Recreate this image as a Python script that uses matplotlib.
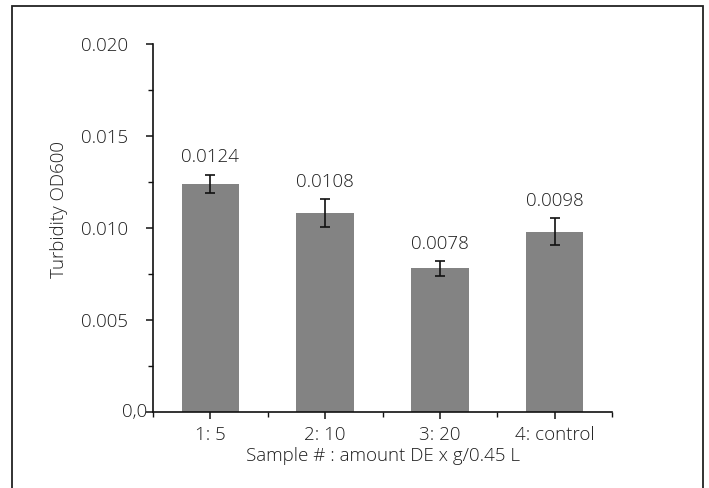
import matplotlib
matplotlib.use("Agg")
import matplotlib.pyplot as plt
from matplotlib.patches import Rectangle
from matplotlib.ticker import MultipleLocator, FixedLocator

categories = ["1: 5", "2: 10", "3: 20", "4: control"]
values = [0.0124, 0.0108, 0.0078, 0.0098]
errors = [0.0005, 0.00075, 0.0004, 0.00075]
value_labels = ["0.0124", "0.0108", "0.0078", "0.0098"]
ytick_values = [0.0, 0.005, 0.010, 0.015, 0.020]
ytick_labels = ["", "0.005", "0.010", "0.015", "0.020"]

plt.rcParams['font.family'] = ['Open Sans', 'DejaVu Sans']
plt.rcParams['font.weight'] = 'light'
plt.rcParams['axes.labelweight'] = 'light'
FS = 13.5
TC = "#1e1e1e"

W, H = 709, 488
fig = plt.figure(figsize=(W / 100, H / 100), dpi=100)
ax = fig.add_axes([153 / W, 1 - 412 / H, (612 - 153) / W, (412 - 44) / H])

x = list(range(len(categories)))
ax.bar(x, values, width=0.5, color="#838383", zorder=2)
ax.errorbar(x, values, yerr=errors, fmt="none", ecolor="#111111",
            elinewidth=1.2, capsize=3.5, capthick=1.2, zorder=3)

for xi, v, e, lab in zip(x, values, errors, value_labels):
    ax.annotate(lab, (xi, v + e), xytext=(0, 6), textcoords="offset points",
                ha="center", va="bottom", fontsize=FS, color=TC)

ax.set_xlim(-0.5, 3.5)
ax.set_ylim(0, 0.020)
ax.set_xticks(x)
ax.set_xticklabels(categories, fontsize=FS, color=TC)
ax.xaxis.set_minor_locator(FixedLocator([-0.5, 0.5, 1.5, 2.5, 3.5]))
ax.set_yticks(ytick_values)
ax.set_yticklabels(ytick_labels, fontsize=FS, color=TC)
ax.yaxis.set_minor_locator(MultipleLocator(0.0025))

ax.tick_params(axis="both", which="major", direction="out", length=5,
               width=1.1, colors="#111111", labelcolor=TC)
ax.tick_params(axis="both", which="minor", direction="out", length=3.5,
               width=1.0, colors="#111111")
ax.tick_params(axis="y", which="major", pad=13)
ax.tick_params(axis="x", which="major", pad=5)

ax.text(-0.012, 0.0, "0,0", transform=ax.get_yaxis_transform(),
        ha="right", va="center", fontsize=FS, color=TC)

for s in ["top", "right"]:
    ax.spines[s].set_visible(False)
for s in ["left", "bottom"]:
    ax.spines[s].set_linewidth(1.2)
    ax.spines[s].set_color("#111111")

ax.set_xlabel("Sample # : amount DE x g/0.45 L", fontsize=FS,
              color=TC, labelpad=2)
ax.set_ylabel("Turbidity OD600", fontsize=FS, color=TC)
ax.yaxis.set_label_coords(-0.185, 0.551)

fig.patches.append(Rectangle((12 / W, -0.02), (703 - 12) / W, 1.02 - 6 / H,
                             transform=fig.transFigure, fill=False,
                             edgecolor="#222222", linewidth=1.3))

fig.savefig("out.png", dpi=100)
